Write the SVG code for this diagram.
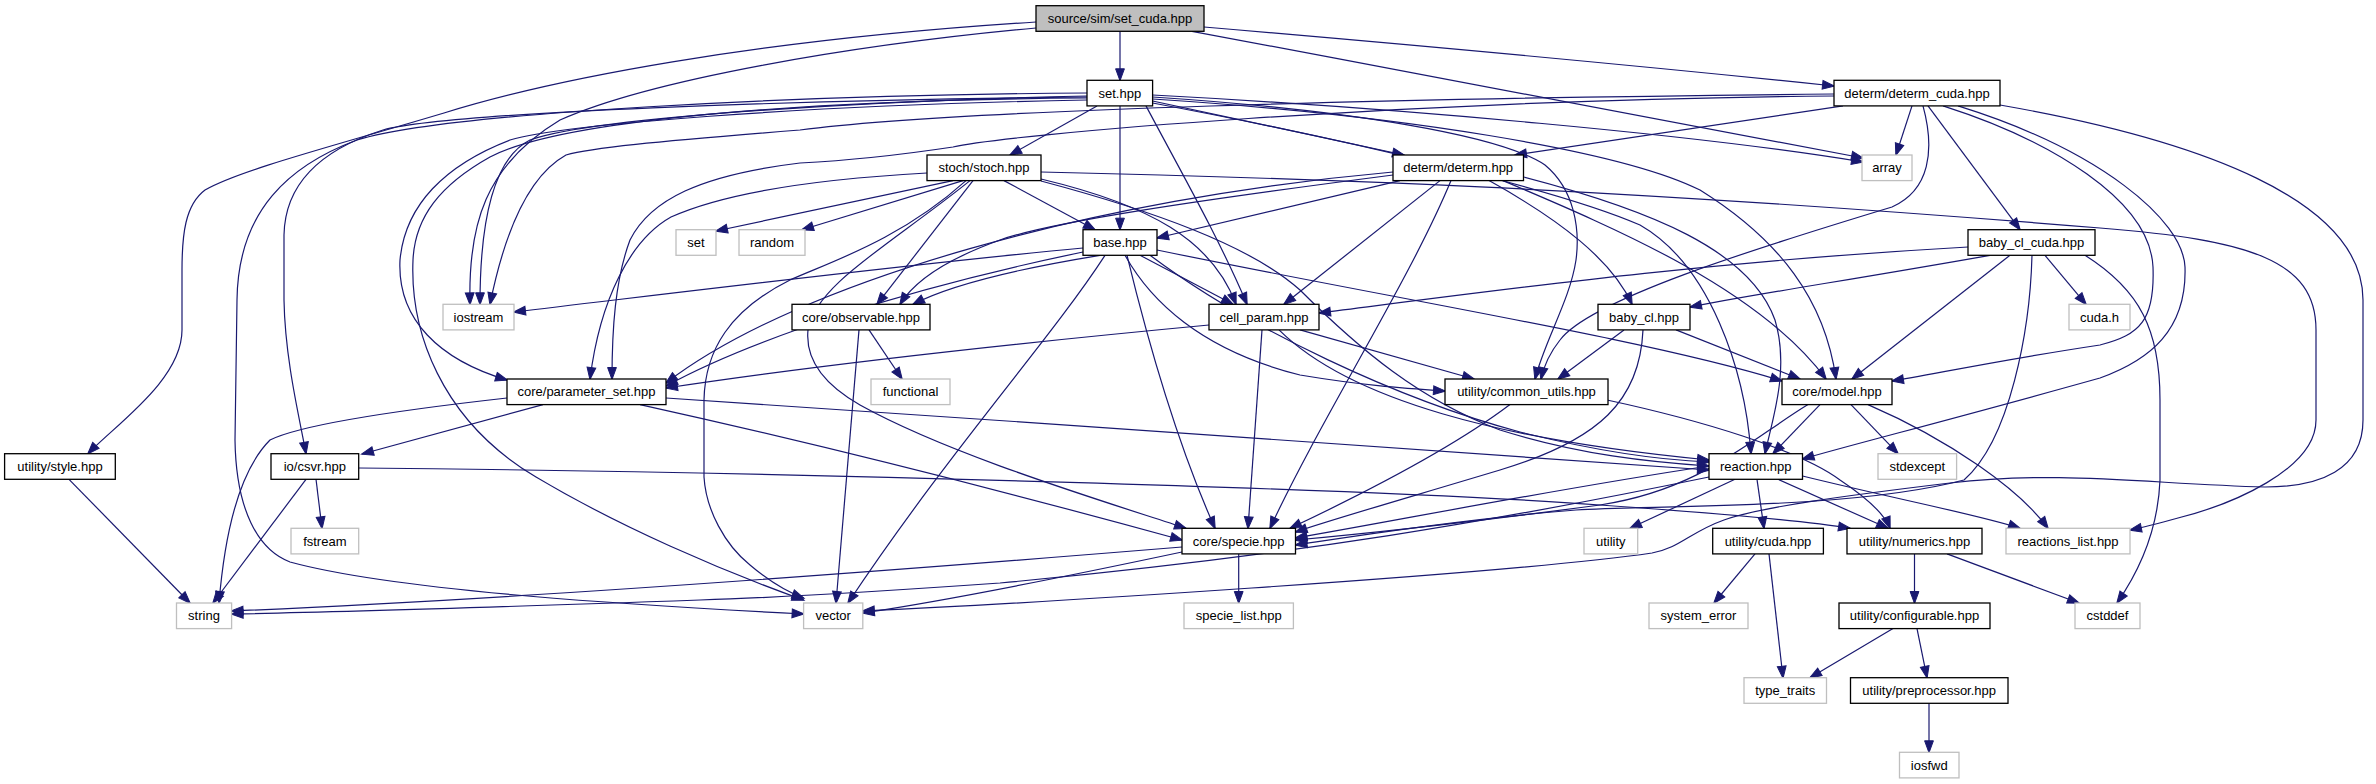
<svg xmlns="http://www.w3.org/2000/svg" width="2376" height="784" viewBox="0 0 2376 784">
<style>
.n rect{fill:#fff;stroke:#000;stroke-width:1.3}
.x rect{fill:#fff;stroke:#bfbfbf;stroke-width:1.3}
.r rect{fill:#bfbfbf;stroke:#000;stroke-width:1.3}
text{font-family:"Liberation Sans",Arial,Helvetica,sans-serif;font-size:13px;text-anchor:middle;fill:#000}
#edges path{fill:none;stroke:#191970;stroke-width:1.2;marker-end:url(#a)}
</style>
<defs>
<marker id="a" markerUnits="userSpaceOnUse" markerWidth="12" markerHeight="10" refX="11.5" refY="5" orient="auto" overflow="visible">
<path d="M0,0.6 L12,5 L0,9.4 z" fill="#191970" stroke="#191970" stroke-width="1"/>
</marker>
</defs>
<rect width="2376" height="784" fill="#fff"/>
<g id="edges">
<path d="M1120,31.3 L1120,80.3"/>
<path d="M1204,27 C1450,48 1700,72 1834,86"/>
<path d="M1192,31.3 C1450,80 1750,135 1863,158"/>
<path d="M1036,28 C850,45 650,80 560,120 C485,165 468,225 470,304.3"/>
<path d="M1036,22 C750,40 550,80 444,113 C330,147 240,170 205,190 C185,205 182,235 182,270 L182,330 C182,380 115,425 88,453.7"/>
<path d="M1097,105.9 L1010,155"/>
<path d="M1120,105.9 L1120,229.7"/>
<path d="M1152.6,101 L1404,155"/>
<path d="M1152.6,95 C1400,108 1700,135 1863,162"/>
<path d="M1087,96 C900,100 600,115 530,140 C490,160 480,230 480,304.3"/>
<path d="M1087,93 C800,95 450,112 357,140 C290,165 238,210 237,300 L235,440 C236,510 258,550 290,562 C400,592 650,606 803.6,614"/>
<path d="M1087,97 C800,100 450,112 383,130 C320,150 285,185 284,235 L284,300 C285,360 300,420 306,453.7"/>
<path d="M1087,100 C800,105 560,125 510,140 C445,165 405,205 400,260 C397,320 440,360 507,380"/>
<path d="M1087,98 C800,100 560,120 490,157 C440,185 415,217 413,260 C410,330 440,420 536,477 C620,527 720,570 803.6,600"/>
<path d="M1146,105.9 C1180,170 1220,240 1247,304.3"/>
<path d="M1152.6,97 C1350,110 1500,135 1545,165 C1575,190 1580,230 1576,260 C1570,300 1545,340 1535,379"/>
<path d="M1152.6,99 C1400,115 1620,150 1700,190 C1780,240 1825,300 1836,379"/>
<path d="M1152.6,103 C1350,140 1560,190 1640,225 C1710,265 1745,370 1751,453.7"/>
<path d="M1843,105.9 L1515,155"/>
<path d="M1912,105.9 L1896,155"/>
<path d="M1928,105.9 L2020,229.7"/>
<path d="M1834,94 C1400,98 950,110 800,130 C650,142 590,148 566,155 C530,175 505,230 490,304.3"/>
<path d="M1834,96 C1400,100 1000,135 953,147 C880,158 820,162 800,163 C700,175 650,200 630,240 C615,280 612,330 612,379"/>
<path d="M1923,105.9 C1935,150 1930,190 1892,207 C1750,250 1590,300 1560,340 C1548,355 1543,370 1541,379"/>
<path d="M1943,105.9 C2050,140 2150,200 2153,267 C2155,320 2140,335 2100,345 C2000,360 1930,375 1892,381"/>
<path d="M1958,105.9 C2100,150 2183,220 2185,267 C2187,330 2150,360 2100,378 C1950,420 1850,445 1802.5,459"/>
<path d="M2000,105 C2200,140 2363,200 2363,300 L2363,420 C2363,470 2320,487 2265,487 C2150,484 2060,470 1950,483 C1850,495 1760,507 1724,520 C1690,532 1680,548 1652,553 C1500,575 1000,605 862.8,611"/>
<path d="M953,180.6 L716,231"/>
<path d="M963,180.6 L802,229.7"/>
<path d="M1004,180.6 L1095,229.7"/>
<path d="M973,180.6 L877,304.3"/>
<path d="M927,173 C800,180 720,195 671,217 C630,240 600,300 590,379"/>
<path d="M966,180.6 C900,240 830,262 790,280 C730,310 705,350 704,400 L704,477 C706,510 725,545 750,565 C770,582 790,593 803.6,598"/>
<path d="M970,180.6 C890,245 815,285 808,330 C805,360 825,385 860,405 C950,455 1100,500 1186,528.3"/>
<path d="M1041,179 C1150,205 1212,240 1236,304.3"/>
<path d="M1041,181 C1150,210 1250,245 1300,290 C1360,350 1420,400 1500,430 C1580,455 1650,462 1709,466"/>
<path d="M1041,172 C1300,178 1600,187 2100,228 C2250,240 2316,260 2316,330 L2316,420 C2316,470 2230,505 2178,518 C2160,523 2145,527 2130,530"/>
<path d="M1400,180.6 L1157,238"/>
<path d="M1393,175 C1200,200 1050,222 1000,240 C950,258 915,280 900,304.3"/>
<path d="M1393,172 C1100,198 800,280 666,383"/>
<path d="M1440,180.6 L1284,304.3"/>
<path d="M1489,180.6 C1560,220 1612,260 1632,304.3"/>
<path d="M1503,180.6 C1620,230 1760,290 1826,379"/>
<path d="M1523.5,177 C1650,210 1750,250 1775,320 C1790,370 1772,420 1765,453.7"/>
<path d="M1451,180.6 C1410,280 1320,420 1270,528.3"/>
<path d="M1083,248 C900,265 700,290 514,312"/>
<path d="M1100,255.3 C1010,270 950,285 913,304.3"/>
<path d="M1083,252 C900,290 750,340 666,386"/>
<path d="M1140,255.3 L1233,304.3"/>
<path d="M1125,255.3 C1150,300 1200,350 1300,375 C1360,385 1400,388 1445,391"/>
<path d="M1157,250 C1400,300 1650,340 1782,381"/>
<path d="M1150,255.3 C1250,330 1400,400 1520,432 C1600,452 1660,460 1709,462"/>
<path d="M1127,255.3 C1150,350 1180,450 1215,528.3"/>
<path d="M1105,255.3 C1050,340 950,450 848,603"/>
<path d="M1209,325 C1050,340 850,360 666,388"/>
<path d="M1300,329.9 L1474,379"/>
<path d="M1279,329.9 C1350,400 1500,440 1709,460"/>
<path d="M1262,329.9 L1248,528.3"/>
<path d="M1968,247 C1700,262 1500,290 1319,313"/>
<path d="M1990,255.3 C1850,280 1750,295 1690,307"/>
<path d="M2045,255.3 L2086,304.3"/>
<path d="M2010,255.3 L1852,379"/>
<path d="M2032,255.3 C2030,330 2010,440 1964,480 C1850,510 1650,505 1576,510 C1450,520 1330,540 1295.5,545"/>
<path d="M2085,255.3 C2140,290 2160,330 2160,400 L2160,480 C2158,530 2140,570 2117,603"/>
<path d="M1624,329.9 L1558,379"/>
<path d="M1676,329.9 L1800,379"/>
<path d="M1643,329.9 C1640,400 1600,440 1500,470 C1400,500 1330,520 1295.5,532"/>
<path d="M869,329.9 L902,379"/>
<path d="M859,329.9 L836,603"/>
<path d="M543,404.6 L362,454"/>
<path d="M507,398 C400,410 300,425 270,440 C240,470 225,530 219,603"/>
<path d="M666,398 C1000,420 1500,455 1709,470"/>
<path d="M640,404.6 C800,440 1000,490 1182,540"/>
<path d="M1510,404.6 C1450,450 1350,500 1290,528.3"/>
<path d="M1607,400 C1700,420 1800,450 1840,480 C1870,500 1885,515 1890,528.3"/>
<path d="M1820,404.6 L1773,453.7"/>
<path d="M1808,404.6 C1750,440 1700,490 1600,505 C1450,525 1350,535 1295.5,540"/>
<path d="M1851,404.6 L1898,453.7"/>
<path d="M1868,404.6 C1950,440 2020,490 2048,528.3"/>
<path d="M69,479.3 L190,603"/>
<path d="M316,479.3 L322,528.3"/>
<path d="M306,479.3 L213,603"/>
<path d="M358.7,468 C800,472 1400,490 1600,505 C1700,512 1800,520 1850,528.3"/>
<path d="M1709,466 C1550,490 1400,520 1295.5,538"/>
<path d="M1735,479.3 L1630,528.3"/>
<path d="M1757,479.3 L1764,528.3"/>
<path d="M1778,479.3 L1888,528.3"/>
<path d="M1802.5,476 C1900,500 1980,515 2020,528.3"/>
<path d="M1709,477 C1500,520 1300,555 1000,583 C900,590 800,597 700,600 C500,607 350,612 231.6,614"/>
<path d="M1238.7,553.9 L1238.7,603"/>
<path d="M1182,547 C900,570 500,600 231.6,611"/>
<path d="M1182,552 C1050,580 950,600 862.8,613"/>
<path d="M1755,553.9 L1714,603"/>
<path d="M1769,553.9 L1783,677.7"/>
<path d="M1914.5,553.9 L1914.5,603"/>
<path d="M1947,553.9 L2079,603"/>
<path d="M1893,628.6 L1810,677.7"/>
<path d="M1917,628.6 L1927,677.7"/>
<path d="M1929,703.3 L1929,752.3"/>
</g>
<g id="n_set_cuda" class="r"><rect x="1036" y="5.7" width="168" height="25.6"/><text x="1120" y="23">source/sim/set_cuda.hpp</text></g>
<g id="n_set_hpp" class="n"><rect x="1087" y="80.3" width="65.6" height="25.6"/><text x="1119.8" y="97.6">set.hpp</text></g>
<g id="n_determ_cuda" class="n"><rect x="1834" y="80.3" width="166" height="25.6"/><text x="1917" y="97.6">determ/determ_cuda.hpp</text></g>
<g id="n_stoch" class="n"><rect x="927" y="155" width="114" height="25.6"/><text x="984" y="172.3">stoch/stoch.hpp</text></g>
<g id="n_determ" class="n"><rect x="1393" y="155" width="130.5" height="25.6"/><text x="1458.2" y="172.3">determ/determ.hpp</text></g>
<g id="n_array" class="x"><rect x="1862" y="155" width="50" height="25.6"/><text x="1887" y="172.3">array</text></g>
<g id="n_set" class="x"><rect x="676" y="229.7" width="40" height="25.6"/><text x="696" y="247">set</text></g>
<g id="n_random" class="x"><rect x="739" y="229.7" width="66" height="25.6"/><text x="772" y="247">random</text></g>
<g id="n_base" class="n"><rect x="1083" y="229.7" width="74" height="25.6"/><text x="1120" y="247">base.hpp</text></g>
<g id="n_baby_cl_cuda" class="n"><rect x="1968" y="229.7" width="127" height="25.6"/><text x="2031.5" y="247">baby_cl_cuda.hpp</text></g>
<g id="n_iostream" class="x"><rect x="443" y="304.3" width="71" height="25.6"/><text x="478.5" y="321.6">iostream</text></g>
<g id="n_observable" class="n"><rect x="792" y="304.3" width="138" height="25.6"/><text x="861" y="321.6">core/observable.hpp</text></g>
<g id="n_cell_param" class="n"><rect x="1209" y="304.3" width="110" height="25.6"/><text x="1264" y="321.6">cell_param.hpp</text></g>
<g id="n_baby_cl" class="n"><rect x="1598" y="304.3" width="92" height="25.6"/><text x="1644" y="321.6">baby_cl.hpp</text></g>
<g id="n_cuda_h" class="x"><rect x="2069" y="304.3" width="61" height="25.6"/><text x="2099.5" y="321.6">cuda.h</text></g>
<g id="n_parameter_set" class="n"><rect x="507" y="379" width="159" height="25.6"/><text x="586.5" y="396.3">core/parameter_set.hpp</text></g>
<g id="n_functional" class="x"><rect x="871" y="379" width="79" height="25.6"/><text x="910.5" y="396.3">functional</text></g>
<g id="n_common_utils" class="n"><rect x="1445" y="379" width="163" height="25.6"/><text x="1526.5" y="396.3">utility/common_utils.hpp</text></g>
<g id="n_model" class="n"><rect x="1782" y="379" width="110" height="25.6"/><text x="1837" y="396.3">core/model.hpp</text></g>
<g id="n_style" class="n"><rect x="4.6" y="453.7" width="110.7" height="25.6"/><text x="60" y="471">utility/style.hpp</text></g>
<g id="n_csvr" class="n"><rect x="271" y="453.7" width="87.7" height="25.6"/><text x="314.8" y="471">io/csvr.hpp</text></g>
<g id="n_reaction" class="n"><rect x="1709" y="453.7" width="93.5" height="25.6"/><text x="1755.7" y="471">reaction.hpp</text></g>
<g id="n_stdexcept" class="x"><rect x="1878" y="453.7" width="78.6" height="25.6"/><text x="1917.3" y="471">stdexcept</text></g>
<g id="n_fstream" class="x"><rect x="291" y="528.3" width="67.7" height="25.6"/><text x="324.8" y="545.6">fstream</text></g>
<g id="n_specie" class="n"><rect x="1182" y="528.3" width="113.5" height="25.6"/><text x="1238.7" y="545.6">core/specie.hpp</text></g>
<g id="n_utility" class="x"><rect x="1584" y="528.3" width="53.7" height="25.6"/><text x="1610.8" y="545.6">utility</text></g>
<g id="n_ucuda" class="n"><rect x="1712.7" y="528.3" width="110.7" height="25.6"/><text x="1768" y="545.6">utility/cuda.hpp</text></g>
<g id="n_numerics" class="n"><rect x="1847" y="528.3" width="135" height="25.6"/><text x="1914.5" y="545.6">utility/numerics.hpp</text></g>
<g id="n_reactions_list" class="x"><rect x="2006" y="528.3" width="124" height="25.6"/><text x="2068" y="545.6">reactions_list.hpp</text></g>
<g id="n_string" class="x"><rect x="176.5" y="603" width="55.1" height="25.6"/><text x="204" y="620.3">string</text></g>
<g id="n_vector" class="x"><rect x="803.6" y="603" width="59.2" height="25.6"/><text x="833.2" y="620.3">vector</text></g>
<g id="n_specie_list" class="x"><rect x="1184" y="603" width="109.4" height="25.6"/><text x="1238.7" y="620.3">specie_list.hpp</text></g>
<g id="n_system_error" class="x"><rect x="1649" y="603" width="99" height="25.6"/><text x="1698.5" y="620.3">system_error</text></g>
<g id="n_configurable" class="n"><rect x="1839" y="603" width="151" height="25.6"/><text x="1914.5" y="620.3">utility/configurable.hpp</text></g>
<g id="n_cstddef" class="x"><rect x="2075" y="603" width="65" height="25.6"/><text x="2107.5" y="620.3">cstddef</text></g>
<g id="n_type_traits" class="x"><rect x="1744" y="677.7" width="82.5" height="25.6"/><text x="1785.2" y="695">type_traits</text></g>
<g id="n_preprocessor" class="n"><rect x="1850.5" y="677.7" width="157.5" height="25.6"/><text x="1929.2" y="695">utility/preprocessor.hpp</text></g>
<g id="n_iosfwd" class="x"><rect x="1899.5" y="752.3" width="59.5" height="25.6"/><text x="1929.2" y="769.6">iosfwd</text></g>
</svg>
